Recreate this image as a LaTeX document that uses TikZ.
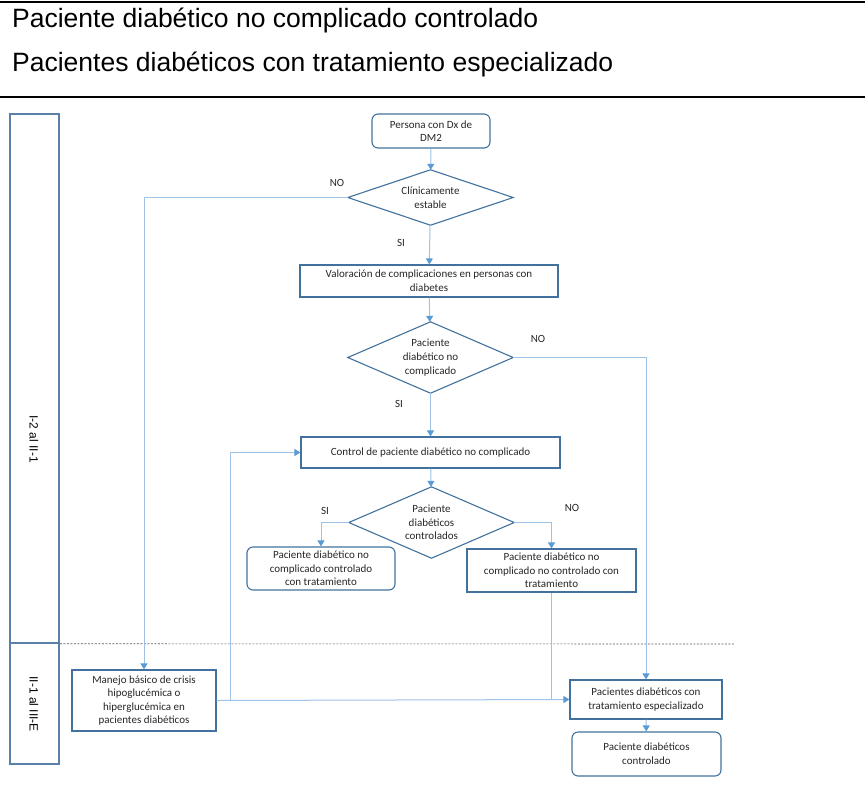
\documentclass[tikz,border=0pt]{standalone}
\usepackage{fontspec}
\setmainfont{Carlito}
\newfontfamily\headfont{Liberation Sans}
\usetikzlibrary{arrows.meta}
\definecolor{boxline}{HTML}{41719C}
\definecolor{laneline}{HTML}{5A7FA8}
\definecolor{connline}{HTML}{9DC3E6}
\definecolor{tipblue}{HTML}{5B9BD5}
\definecolor{txt}{HTML}{262626}
\newcommand\drawdiamond[1]{\draw[boxline, line width=1.1pt, line join=miter] (#1.west) -- (#1.north) -- (#1.east) -- (#1.south) -- cycle;}
\begin{document}
\begin{tikzpicture}[x=1pt, y=-1pt,
  every node/.style={font=\fontsize{11}{13.6}\selectfont, text=txt, inner sep=0pt, align=center},
  procbox/.style={draw=boxline, line width=1.1pt, minimum width=#1},
  roundbox/.style={draw=boxline, line width=1.1pt, rounded corners=6pt, minimum width=#1},
  decision/.style={minimum width=165pt},
  lanebox/.style={draw=laneline, line width=1.5pt, minimum width=49pt},
  lanelabel/.style={rotate=-90, font=\headfont\fontsize{12}{14}\selectfont, text=black},
  headtext/.style={anchor=base west, font=\headfont\fontsize{26.5}{30}\selectfont, text=black},
  answer/.style={font=\fontsize{11}{13}\selectfont},
  conn/.style={draw=connline, line width=1pt, -{Triangle[length=6pt, width=7pt, color=tipblue]}},
  plain/.style={draw=connline, line width=1pt},
  rule/.style={line width=2pt, black}]
\useasboundingbox (0,0) rectangle (865,793);

% header
\draw[rule] (0,2) -- (865,2);
\draw[rule] (0,97) -- (865,97);
\node[headtext] (h1) at (12,27) {Paciente diabético no complicado controlado};
\node[headtext] (h2) at (12,71) {Pacientes diabéticos con tratamiento especializado};

% lanes
\node[lanebox, minimum height=529pt] (lane1) at (34.5,378.5) {};
\node[lanebox, minimum height=121pt] (lane2) at (34.5,703.5) {};
\node[lanelabel] (lab1) at (34,439) {I-2 al II-1};
\node[lanelabel] (lab2) at (34,704) {II-1 al III-E};
\draw[gray!70!black, line width=0.6pt, dash pattern=on 2pt off 1.5pt] (lane1.south east) -- (735,644);

% process nodes
\node[roundbox=118pt, minimum height=34pt] (start) at (431,131) {Persona con Dx de\\DM2};
\node[decision, minimum height=55pt] (d1) at (430.5,197.5) {Clínicamente\\estable};
\drawdiamond{d1}
\node[procbox=258pt, minimum height=32pt] (valor) at (429,281) {Valoración de complicaciones en personas con\\diabetes};
\node[decision, minimum height=71pt] (d2) at (430.5,357.5) {Paciente\\diabético no\\complicado};
\drawdiamond{d2}
\node[procbox=259pt, minimum height=31pt] (control) at (430.5,452.5) {Control de paciente diabético no complicado};
\node[decision, minimum height=71pt] (d3) at (431.5,522.5) {Paciente\\diabéticos\\controlados};
\drawdiamond{d3}
\node[roundbox=148pt, minimum height=43pt] (ctrlok) at (321,568.5) {Paciente diabético no\\complicado controlado\\con tratamiento};
\node[procbox=169pt, minimum height=43pt] (notok) at (551.5,570.5) {Paciente diabético no\\complicado no controlado con\\tratamiento};
\node[procbox=144pt, minimum height=61pt] (manejo) at (144,700.5) {Manejo básico de crisis\\hipoglucémica o\\hiperglucémica en\\pacientes diabéticos};
\node[procbox=152pt, minimum height=39pt] (spec) at (646,699.5) {Pacientes diabéticos con\\tratamiento especializado};
\node[roundbox=149pt, minimum height=44pt] (final) at (646.5,754) {Paciente diabéticos\\controlado};

% branch labels
\node[answer] (no1) at (337,183) {NO};
\node[answer] (si1) at (401,243) {SI};
\node[answer] (no2) at (538,339) {NO};
\node[answer] (si2) at (399,404) {SI};
\node[answer] (si3) at (325,511) {SI};
\node[answer] (no3) at (572,508) {NO};

% connectors
\draw[conn] (start) -- (d1);
\draw[conn] (d1.west) -| (manejo.north);
\draw[conn] (d1) -- (valor);
\draw[conn] (valor) -- (d2);
\draw[conn] (d2.east) -| (spec.north);
\draw[conn] (d2) -- (control);
\draw[conn] (control) -- (d3);
\draw[conn] (d3.west) -| (ctrlok.north);
\draw[conn] (d3.east) -| (notok.north);
\draw[plain] (notok.south) -- (notok.south |- spec.west);
\draw[conn] (manejo.east) -- (spec.west);
\draw[conn] (manejo.east) -- ++(14,0) coordinate (loopup) |- (control.west);
\draw[conn] (spec) -- (final);
\end{tikzpicture}
\end{document}
